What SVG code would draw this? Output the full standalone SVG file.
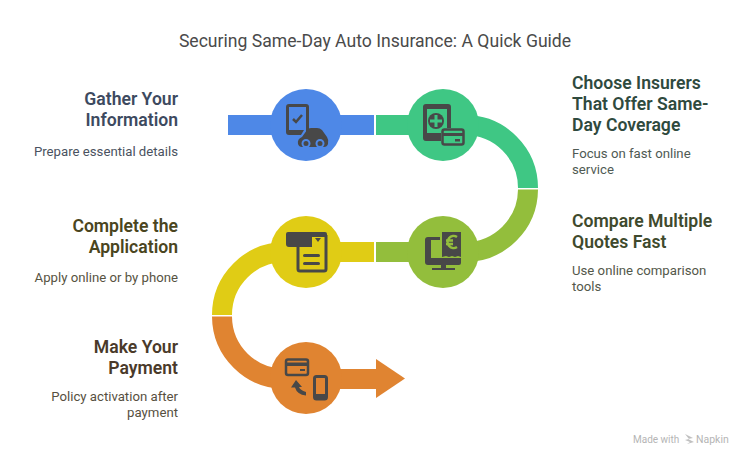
<svg xmlns="http://www.w3.org/2000/svg" width="750" height="450" viewBox="0 0 750 450">
<style>
text{font-family:Roboto,"Liberation Sans",sans-serif}
.t{font-size:17.6px;fill:#4a4a4a;text-anchor:middle}
.h{font-size:17.6px;font-weight:600}
.d{font-size:13.2px}
.e{text-anchor:end}
.band{fill:none;stroke-width:20}
.i{fill:#484848}
.l{fill:none;stroke:#484848;stroke-width:2.5}
</style>
<rect width="750" height="450" fill="#fff"/>
<text class="t" x="375" y="46.500">Securing Same-Day Auto Insurance: A Quick Guide</text>
<g id="connectors">
<path class="band" stroke="#4e88e7" d="M228 125H374"/>
<path class="band" stroke="#3fc784" d="M376 125H465A63 63 0 0 1 528 188"/>
<path class="band" stroke="#93be3c" d="M528 189.500A63 63 0 0 1 465 252H376"/>
<path class="band" stroke="#e0cc15" d="M374 252H285A63 63 0 0 0 222 315"/>
<path class="band" stroke="#e08431" d="M222 316.500A63 63 0 0 0 285 379H376"/>
<path fill="#e08431" d="M376 359L405 378.500L376 398Z"/>
</g>
<g id="node-gather">
<circle cx="306" cy="125" r="36" fill="#4e88e7"/>
<path class="i" d="M289 104h17q3 0 3 3v26h-3v-26h-17v23h15l-3 5h-12q-3 0-3-3v-25q0-3 3-3z"/>
<path fill="none" stroke="#484848" stroke-width="2.500" d="M293 119l3 3 6-7"/>
<path class="i" d="M298 144q-1-5 4-7l5-7q1-2 4-2h6q3 0 5 2l5 7q2 3 1 7q-1 3-4 3h-22q-3 0-4-3z"/>
<circle cx="306" cy="143.500" r="3.500" class="i" stroke="#4e88e7" stroke-width="2"/><circle cx="320" cy="143.500" r="3.500" class="i" stroke="#4e88e7" stroke-width="2"/>
<text class="h e" x="178" y="104.500" fill="#3d4a5f">Gather Your</text>
<text class="h e" x="178" y="125.500" fill="#3d4a5f">Information</text>
<text class="d e" x="178" y="156" fill="#4a5260">Prepare essential details</text>
</g>
<g id="node-choose">
<circle cx="443" cy="125" r="36" fill="#3fc784"/>
<path class="i" d="M426 104h22q3 0 3 3v21h-4v-19h-20v24h14v8h-15q-3 0-3-3v-31q0-3 3-3z"/>
<circle cx="436" cy="121" r="8" class="i"/>
<path fill="#3fc784" d="M434.500 115h3v4.500h4.500v3h-4.500v4.500h-3v-4.500h-4.500v-3h4.500z"/>
<rect x="441" y="128" width="24" height="18" rx="3" fill="#3fc784"/>
<rect class="l" x="442.500" y="129.500" width="21" height="15" rx="2"/>
<rect class="i" x="442" y="133" width="22" height="3"/>
<rect class="i" x="455" y="139" width="5" height="2.500"/>
<text class="h" x="572" y="88.500" fill="#2f4a3e">Choose Insurers</text>
<text class="h" x="572" y="109.500" fill="#2f4a3e">That Offer Same-</text>
<text class="h" x="572" y="130.500" fill="#2f4a3e">Day Coverage</text>
<text class="d" x="572" y="158" fill="#4f5a54">Focus on fast online</text>
<text class="d" x="572" y="174" fill="#4f5a54">service</text>
</g>
<g id="node-compare">
<circle cx="443" cy="252" r="36" fill="#93be3c"/>
<path class="i" d="M428 237h12v3h-9v18h30v5q0 2-2 2h-31q-3 0-3-3v-22q0-3 3-3z"/>
<path class="i" d="M442 232h19v25l-3-1-3 1-3-1-3 1-3-1-4 1z"/>
<path fill="none" stroke="#93be3c" stroke-width="2.500" d="M457 237a6 6 0 1 0 0 10M446 240.500h7M446 244h7"/>
<path class="i" d="M441 265h5v3h9v2h-23v-2h9z"/>
<text class="h" x="572" y="226.500" fill="#3f4a2d">Compare Multiple</text>
<text class="h" x="572" y="247.500" fill="#3f4a2d">Quotes Fast</text>
<text class="d" x="572" y="275" fill="#53584a">Use online comparison</text>
<text class="d" x="572" y="291" fill="#53584a">tools</text>
</g>
<g id="node-complete">
<circle cx="306" cy="252" r="36" fill="#e0cc15"/>
<path class="i" d="M288 232h37q2 0 2 2v3h-15v10h-23q-3 0-3-3v-10q0-2 2-2z"/>
<path fill="none" stroke="#484848" stroke-width="3" d="M298 247v22q0 2 2 2h24q2 0 2-2v-34"/>
<path class="i" d="M315 238h6l-3 4z"/>
<rect class="i" x="303" y="254" width="17" height="3" rx="1.500"/>
<rect class="i" x="303" y="262" width="17" height="3" rx="1.500"/>
<text class="h e" x="178" y="231.500" fill="#4a4520">Complete the</text>
<text class="h e" x="178" y="252.500" fill="#4a4520">Application</text>
<text class="d e" x="178" y="282" fill="#57533f">Apply online or by phone</text>
</g>
<g id="node-payment">
<circle cx="306" cy="378" r="36" fill="#e08431"/>
<rect class="l" x="286" y="359.500" width="22" height="15.500" rx="2"/>
<rect class="i" x="286" y="362.500" width="22" height="3.500"/>
<rect class="i" x="300" y="369" width="5" height="2"/>
<rect fill="none" stroke="#484848" stroke-width="3" x="314.500" y="376.500" width="12" height="22.500" rx="2"/>
<rect class="i" x="314" y="394" width="13" height="5"/>
<path class="i" d="M296 380l6 7h-3q1 3 7 5v3.500q-9-1-11-8h-4z"/>
<text class="h e" x="178" y="352.500" fill="#4a3a2a">Make Your</text>
<text class="h e" x="178" y="373.500" fill="#4a3a2a">Payment</text>
<text class="d e" x="178" y="401" fill="#57503f">Policy activation after</text>
<text class="d e" x="178" y="417" fill="#57503f">payment</text>
</g>
<text x="633" y="443" font-size="10" fill="#b5b5b5">Made with</text>
<path fill="#c0c0c0" d="M685 434l8 4-5 1 6 3-7 2 3-2-5-2 4-1z"/>
<text x="696" y="443" font-size="10.500" fill="#b5b5b5">Napkin</text>
</svg>
